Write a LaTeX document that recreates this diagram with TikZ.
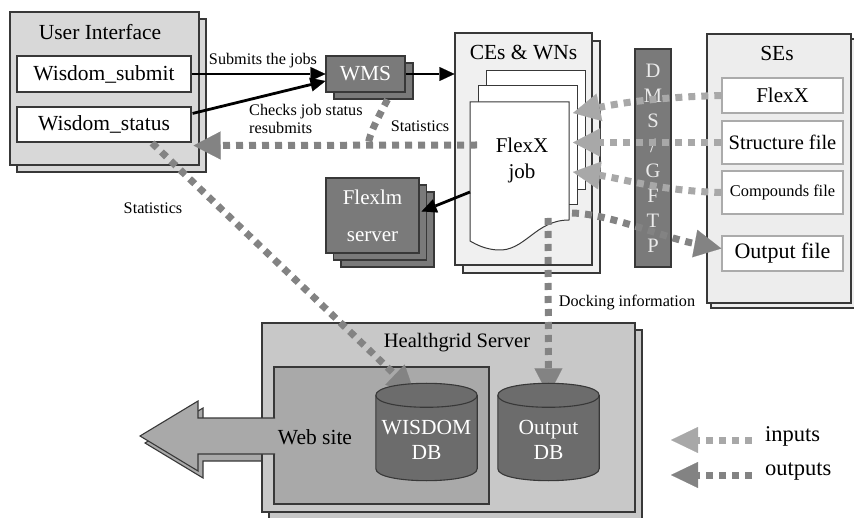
\documentclass[tikz,border=0pt]{standalone}
\usepackage{fontspec}
\setmainfont{Liberation Serif}
\usetikzlibrary{arrows.meta,shadows,calc}
\definecolor{inc}{HTML}{A8A8A8}
\definecolor{outc}{HTML}{838383}
\definecolor{darkfill}{HTML}{7A7A7A}
\definecolor{uifill}{HTML}{D8D8D8}
\definecolor{cefill}{HTML}{F0F0F0}
\definecolor{sefill}{HTML}{EDEDED}
\definecolor{hgfill}{HTML}{C8C8C8}
\definecolor{webfill}{HTML}{A9A9A9}
\definecolor{cylfill}{HTML}{6C6C6C}
\definecolor{edge}{HTML}{383838}
\tikzset{
  fbig/.style={font=\fontsize{21.5}{25}\selectfont},
  fsmall/.style={font=\fontsize{16.2}{19}\selectfont},
  panel/.style={draw=edge, line width=1.1pt, inner sep=0pt},
  whitebox/.style={panel, fill=white, fbig},
  sebox/.style={draw=black!33, line width=1.4pt, fill=white, inner sep=0pt, fbig},
  darkbox/.style={panel, fill=darkfill, text=white, fbig},
  txt/.style={inner sep=0pt},
  blackarrow/.style={draw=black, line width=2.8pt, -{Triangle[length=15pt,width=14pt,line width=0.1pt]}},
  inarrow/.style={draw=inc, line width=7pt, dash pattern=on 7pt off 6pt, -{Triangle[length=27pt,width=28pt,line width=0.1pt]}},
  outarrow/.style={draw=outc, line width=7pt, dash pattern=on 7pt off 6pt, -{Triangle[length=27pt,width=28pt,line width=0.1pt]}},
  dotline/.style={draw=outc, line width=7pt, dash pattern=on 7pt off 6pt},
  cylbody/.style={fill=cylfill, draw=edge, line width=1.1pt},
}
\newcommand\drawcylinder[1]{%
  \path[cylbody] ($(#1.north west)+(0,12)$) -- ($(#1.south west)+(0,-12)$)
    .. controls ($(#1.south west)+(0,4)$) and ($(#1.south east)+(0,4)$) .. ($(#1.south east)+(0,-12)$)
    -- ($(#1.north east)+(0,12)$)
    .. controls ($(#1.north east)+(0,-4)$) and ($(#1.north west)+(0,-4)$) .. cycle;
  \draw[edge, line width=1.1pt] ($(#1.north west)+(0,12)$)
    .. controls ($(#1.north west)+(0,28)$) and ($(#1.north east)+(0,28)$) .. ($(#1.north east)+(0,12)$);
}
\begin{document}
\begin{tikzpicture}[x=1pt,y=-1pt]
\useasboundingbox (0,0) rectangle (854,518);

% ---------------- User interface
\node[panel, fill=uifill, minimum width=189pt, minimum height=153pt,
      copy shadow={shadow xshift=7pt,shadow yshift=-7pt}] (ui) at (104.5,88.5) {};
\node[txt,fbig] (uititle) at (100,32) {User Interface};
\node[whitebox, minimum width=174pt, minimum height=36pt] (submit) at (104,74) {Wisdom\_submit};
\node[whitebox, minimum width=174pt, minimum height=35pt] (status) at (104,124.5) {Wisdom\_status};

% ---------------- WMS
\node[darkbox, minimum width=79pt, minimum height=36pt,
      copy shadow={shadow xshift=8pt,shadow yshift=-7pt}] (wms) at (365.5,74) {WMS};

% ---------------- CEs & WNs
\node[panel, fill=cefill, minimum width=137pt, minimum height=232pt,
      copy shadow={shadow xshift=8pt,shadow yshift=-8pt}] (ces) at (523.5,149) {};
\node[txt,fbig] (cetitle) at (523.5,53) {CEs \& WNs};
\node[panel, fill=white, line width=1pt, minimum width=99pt, minimum height=119pt] (page3) at (535.5,130.5) {};
\node[panel, fill=white, line width=1pt, minimum width=99pt, minimum height=119pt] (page2) at (527.5,145.5) {};
\draw[edge, line width=1pt, fill=white] (470,102) -- (569,102) -- (569,220)
  .. controls (535,220) and (525,252) .. (497,250)
  .. controls (485,249) and (477,245) .. (470,241) -- cycle;
\node[txt, align=center, font=\fontsize{21}{26}\selectfont] (job) at (522,160) {FlexX\\job};
\coordinate (jin1) at (573,113);
\coordinate (jin2) at (573,142.5);
\coordinate (jin3) at (573,172);
\coordinate (jout) at (572,213);
\coordinate (jobB) at (548,218);
\coordinate (jstat) at (477,145);
\coordinate (jflex) at (470,192);

% ---------------- Flexlm server
\node[darkbox, minimum width=93pt, minimum height=75pt, align=center,
      font=\fontsize{21}{37}\selectfont,
      copy shadow={shadow xshift=15pt,shadow yshift=-14pt},
      copy shadow={shadow xshift=7.5pt,shadow yshift=-7pt}] (flexlm) at (372.5,215.5) {Flexlm\\server};

% ---------------- DMS/GFTP
\node[darkbox, minimum width=36pt, minimum height=218pt, align=center,
      font=\fontsize{20.5}{25}\selectfont, text=black!8] (dms) at (653,158) {D\\M\\S\\/\\G\\F\\T\\P};

% ---------------- SEs
\node[panel, fill=sefill, minimum width=144pt, minimum height=269pt,
      copy shadow={shadow xshift=4pt,shadow yshift=-5pt}] (ses) at (779,168.5) {};
\node[txt,fbig] (setitle) at (777,53) {SEs};
\node[sebox, minimum width=121pt, minimum height=35pt, font=\fontsize{21}{25}\selectfont] (seflex) at (782.5,95.5) {FlexX};
\node[sebox, minimum width=121pt, minimum height=43pt, font=\fontsize{20.5}{24}\selectfont] (sestruct) at (782.5,142.5) {Structure file};
\node[sebox, minimum width=121pt, minimum height=43pt, font=\fontsize{16.4}{19}\selectfont] (secomp) at (782.5,192.5) {Compounds file};
\node[sebox, minimum width=121pt, minimum height=35pt, font=\fontsize{22}{25}\selectfont] (seout) at (782.5,253.5) {Output file};

% ---------------- Healthgrid server
\fill[webfill] (145,443) -- (203,408) -- (203,425) -- (270,425) -- (270,461) -- (203,461) -- (203,478) -- cycle;
\draw[edge, line width=1.1pt] (203,425) -- (203,408) -- (145,443) -- (203,478) -- (203,461) -- (270,461);
\node[panel, fill=hgfill, minimum width=373pt, minimum height=189pt,
      copy shadow={shadow xshift=7pt,shadow yshift=-7pt}] (hg) at (448.5,417.5) {};
\node[txt, font=\fontsize{20.5}{24}\selectfont] (hgtitle) at (457,343) {Healthgrid Server};
\node[panel, fill=webfill, minimum width=215pt, minimum height=137pt] (web) at (381.5,435.5) {};
\fill[webfill] (140,436) -- (198,401) -- (198,418) -- (275,418) -- (275,454) -- (198,454) -- (198,471) -- cycle;
\draw[edge, line width=1.1pt] (275,418) -- (198,418) -- (198,401) -- (140,436) -- (198,471) -- (198,454) -- (275,454);
\node[txt, font=\fontsize{21.5}{25}\selectfont] (webtxt) at (315,437) {Web site};
\node[minimum width=101pt, minimum height=97pt, inner sep=0pt] (wisdb) at (426.5,432) {};
\node[minimum width=101pt, minimum height=97pt, inner sep=0pt] (outdb) at (548.5,432) {};
\coordinate (statS) at (152,143);

% ---------------- black arrows
\draw[blackarrow] (submit.east) -- (wms.west);
\draw[blackarrow] ($(status.north east)+(1,7)$) -- ($(wms.west)+(0,7)$);
\draw[blackarrow] (wms.east) -- (wms.east -| ces.west);
\draw[blackarrow] (jflex) -- ($(flexlm.east)+(2,-4)$);

% ---------------- dotted arrows
\draw[inarrow] (seflex.west) .. controls (660,97) and (620,103) .. (jin1);
\draw[inarrow] (sestruct.west) -- (jin2);
\draw[inarrow] (secomp.west) .. controls (660,191) and (620,178) .. (jin3);
\draw[outarrow] (jout) .. controls (610,214) and (665,238) .. ($(seout.west)+(0,-5)$);
\draw[outarrow] (jobB) -- ($(outdb.north)+(0,12)$);
\draw[outarrow] (jstat) -- ($(status.south east)+(2,3)$);
\draw[dotline] ($(wms.south)+(22,7)$) .. controls (378,118) and (370,132) .. (368,145);
\draw[outarrow] (statS) -- ($(wisdb.north)+(-12,10)$);

% ---------------- databases
\drawcylinder{wisdb}
\drawcylinder{outdb}
\node[txt, align=center, text=white, font=\fontsize{21.5}{25}\selectfont] (wistxt) at ($(wisdb.center)+(0,8)$) {WISDOM\\DB};
\node[txt, align=center, text=white, font=\fontsize{21.5}{25}\selectfont] (outtxt) at ($(outdb.center)+(0,8)$) {Output\\DB};

% ---------------- labels
\node[txt,fsmall] (lsubmit) at (263,61) {Submits the jobs};
\node[txt,align=left,anchor=west,font=\fontsize{16.2}{18}\selectfont] (lcheck) at (249,119) {Checks job status\\resubmits};
\node[txt,fsmall] (lstat1) at (420,126) {Statistics};
\node[txt,fsmall] (lstat2) at (153,208) {Statistics};
\node[txt,fsmall] (ldock) at (627,303) {Docking information};

% ---------------- legend
\coordinate (li1) at (752,440); \coordinate (li2) at (671,440);
\coordinate (lo1) at (752,475); \coordinate (lo2) at (671,475);
\draw[inarrow, -{Triangle[length=27pt,width=26pt,line width=0.1pt]}] (li1) -- (li2);
\draw[outarrow, -{Triangle[length=27pt,width=26pt,line width=0.1pt]}] (lo1) -- (lo2);
\node[txt,anchor=west,font=\fontsize{22.5}{26}\selectfont] (lin) at (765,436) {inputs};
\node[txt,anchor=west,font=\fontsize{22.5}{26}\selectfont] (lout) at (765,472) {outputs};
\end{tikzpicture}
\end{document}
